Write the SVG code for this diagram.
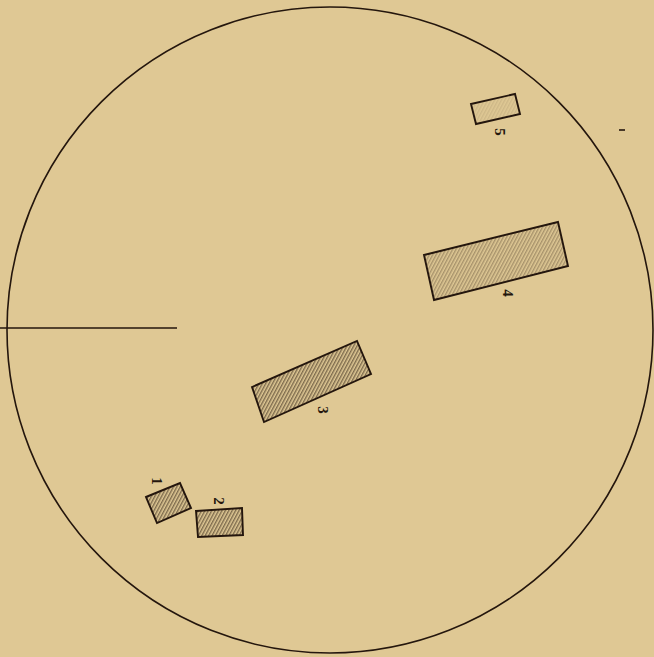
<svg xmlns="http://www.w3.org/2000/svg" width="654" height="657" viewBox="0 0 654 657">
<defs>
<pattern id="hatch" patternUnits="userSpaceOnUse" width="3" height="10" patternTransform="rotate(28)">
<line x1="0.8" y1="0" x2="0.8" y2="10" stroke="#3b2a1c" stroke-width="1" stroke-opacity="0.85"/>
</pattern>
<pattern id="hatchLight" patternUnits="userSpaceOnUse" width="3" height="10" patternTransform="rotate(28)">
<line x1="0.8" y1="0" x2="0.8" y2="10" stroke="#3b2a1c" stroke-width="0.9" stroke-opacity="0.55"/>
</pattern>
</defs>
<style>
.box{stroke:#24160d;stroke-width:1.9;stroke-linejoin:miter}
.line{stroke:#24160d;stroke-width:1.6;fill:none}
.lbl{font-family:"Liberation Serif",serif;font-size:15px;font-weight:bold;fill:#24160d;text-anchor:middle;dominant-baseline:middle}
</style>
<rect width="654" height="657" fill="#dfc894"/>
<g id="connectors">
<circle class="line" cx="330" cy="330" r="323"/>
<line class="line" x1="0" y1="328" x2="177" y2="328"/>
<line class="line" x1="619" y1="130" x2="625" y2="130" stroke-width="2"/>
</g>
<g id="node5">
<polygon class="box" fill="url(#hatchLight)" fill-opacity="0.3" points="471,104 515,94 520,114 476,124"/>
<text class="lbl" transform="translate(498,132) rotate(90)">5</text>
</g>
<g id="node4">
<polygon class="box" fill="url(#hatchLight)" points="424,255 558,222 568,266 434,300"/>
<text class="lbl" transform="translate(506,293) rotate(90)">4</text>
</g>
<g id="node3">
<polygon class="box" fill="url(#hatch)" points="252,387 357,341 371,374 264,422"/>
<text class="lbl" transform="translate(321,410) rotate(90)">3</text>
</g>
<g id="node1">
<polygon class="box" fill="url(#hatch)" points="146,497 180,483 191,508 157,523"/>
<text class="lbl" transform="translate(155,481) rotate(90)">1</text>
</g>
<g id="node2">
<polygon class="box" fill="url(#hatch)" points="196,511 242,508 243,535 198,537"/>
<text class="lbl" transform="translate(217,501) rotate(90)">2</text>
</g>
</svg>
